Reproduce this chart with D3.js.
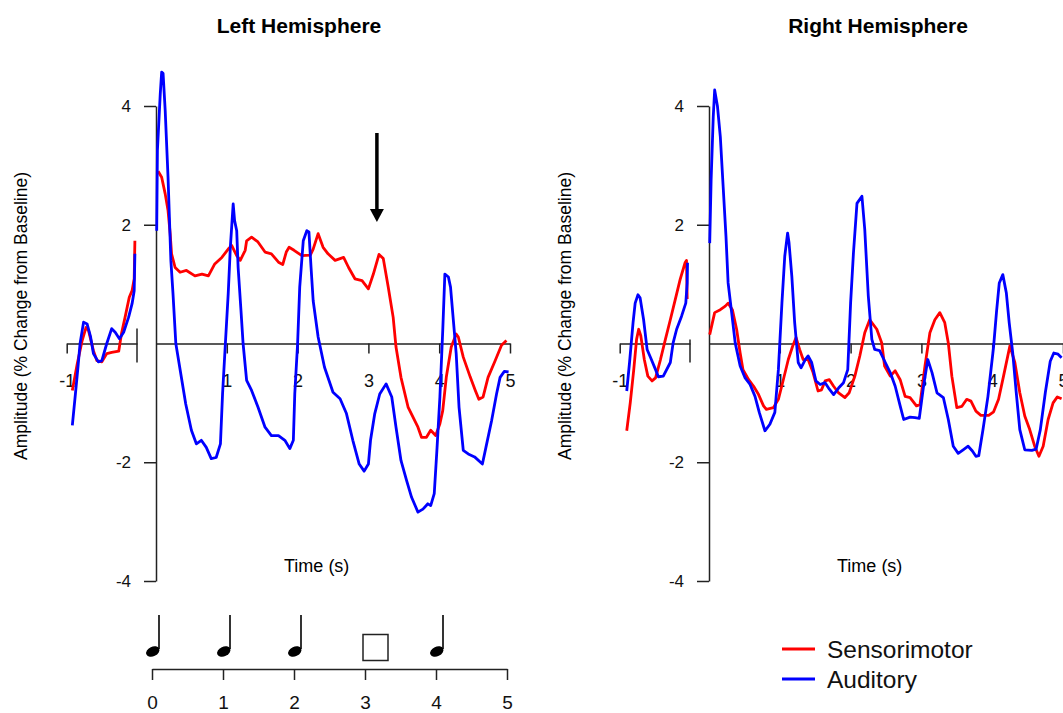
<!DOCTYPE html>
<html>
<head>
<meta charset="utf-8">
<script src="https://cdn.jsdelivr.net/npm/d3@7"></script>
<style>
  body { margin: 0; background: #fff; }
  svg { display: block; font-family: Arial, "Liberation Sans", sans-serif; }
</style>
</head>
<body>
<svg id="chart" width="1063" height="713"></svg>
<script>
// data: [time (s), amplitude]
var leftPreSensorimotor = [[-0.92,-0.79],[-0.85,-0.34],[-0.78,0.05],[-0.725,0.27],[-0.69,0.22],[-0.62,-0.12],[-0.57,-0.29],[-0.5,-0.31],[-0.43,-0.17],[-0.36,-0.15],[-0.26,-0.13],[-0.22,0.17],[-0.17,0.44],[-0.11,0.78],[-0.07,0.89],[-0.04,1.09],[-0.03,1.73]];
var leftPreAuditory = [[-0.92,-1.38],[-0.876,-0.85],[-0.84,-0.4],[-0.81,0],[-0.76,0.36],[-0.71,0.33],[-0.66,0.11],[-0.62,-0.17],[-0.55,-0.31],[-0.5,-0.29],[-0.43,0],[-0.36,0.25],[-0.31,0.19],[-0.25,0.08],[-0.19,0.19],[-0.12,0.44],[-0.07,0.67],[-0.04,0.89],[-0.03,1.51]];
var leftSensorimotor = [[0.03,2.9],[0.08,2.8],[0.13,2.52],[0.17,2.24],[0.2,1.85],[0.22,1.51],[0.27,1.28],[0.34,1.2],[0.43,1.23],[0.55,1.14],[0.65,1.17],[0.74,1.14],[0.83,1.34],[0.93,1.45],[1.02,1.59],[1.07,1.65],[1.14,1.48],[1.19,1.4],[1.26,1.57],[1.28,1.73],[1.35,1.79],[1.44,1.71],[1.54,1.54],[1.63,1.51],[1.73,1.37],[1.79,1.33],[1.84,1.54],[1.88,1.62],[1.95,1.57],[2.06,1.48],[2.18,1.49],[2.22,1.59],[2.29,1.85],[2.36,1.62],[2.43,1.51],[2.53,1.4],[2.65,1.45],[2.72,1.28],[2.81,1.09],[2.91,1.06],[3.0,0.92],[3.07,1.17],[3.15,1.5],[3.21,1.43],[3.28,0.95],[3.35,0.44],[3.39,-0.06],[3.46,-0.57],[3.56,-1.07],[3.63,-1.24],[3.7,-1.41],[3.75,-1.58],[3.82,-1.58],[3.88,-1.46],[3.95,-1.55],[4.01,-1.35],[4.05,-1.13],[4.1,-0.57],[4.17,-0.06],[4.24,0.16],[4.27,0.11],[4.34,-0.23],[4.44,-0.57],[4.51,-0.79],[4.56,-0.94],[4.62,-0.9],[4.69,-0.57],[4.79,-0.29],[4.88,-0.03],[4.95,0.05]];
var leftAuditory = [[0.01,1.9],[0.02,3.25],[0.06,4.2],[0.08,4.57],[0.1,4.55],[0.13,3.92],[0.17,2.8],[0.21,1.4],[0.24,0.84],[0.28,0],[0.35,-0.51],[0.42,-1.02],[0.5,-1.46],[0.57,-1.69],[0.64,-1.63],[0.71,-1.75],[0.78,-1.94],[0.85,-1.92],[0.91,-1.69],[0.94,-0.85],[0.98,0],[1.02,0.84],[1.05,1.62],[1.09,2.35],[1.11,2.07],[1.14,1.9],[1.16,1.28],[1.2,0.56],[1.23,0],[1.28,-0.62],[1.35,-0.79],[1.44,-1.07],[1.54,-1.41],[1.63,-1.55],[1.73,-1.55],[1.82,-1.63],[1.89,-1.77],[1.94,-1.63],[1.96,-0.85],[2.0,0],[2.03,0.95],[2.08,1.73],[2.13,1.9],[2.16,1.88],[2.19,1.28],[2.22,0.72],[2.29,0.11],[2.38,-0.4],[2.5,-0.82],[2.6,-0.93],[2.69,-1.18],[2.78,-1.63],[2.87,-2.03],[2.94,-2.15],[3.0,-2.03],[3.03,-1.63],[3.09,-1.18],[3.16,-0.85],[3.25,-0.68],[3.33,-0.9],[3.39,-1.41],[3.46,-1.97],[3.54,-2.31],[3.61,-2.59],[3.7,-2.84],[3.77,-2.79],[3.84,-2.7],[3.88,-2.73],[3.93,-2.53],[3.97,-1.75],[4.01,-0.9],[4.05,0.22],[4.08,1.17],[4.13,1.12],[4.16,0.95],[4.2,0.39],[4.24,-0.17],[4.28,-1.07],[4.34,-1.8],[4.41,-1.86],[4.5,-1.91],[4.61,-2.03],[4.66,-1.75],[4.74,-1.3],[4.81,-0.85],[4.86,-0.57],[4.92,-0.47],[4.98,-0.48]];

var rightPreSensorimotor = [[-0.9,-1.47],[-0.85,-1.0],[-0.8,-0.44],[-0.76,0.07],[-0.73,0.24],[-0.7,0.13],[-0.65,-0.27],[-0.6,-0.55],[-0.54,-0.63],[-0.49,-0.58],[-0.42,-0.27],[-0.35,0.07],[-0.28,0.4],[-0.21,0.74],[-0.14,1.08],[-0.07,1.36],[-0.05,1.4],[-0.04,0.75]];
var rightPreAuditory = [[-0.9,-0.8],[-0.86,-0.32],[-0.81,0.35],[-0.78,0.68],[-0.74,0.82],[-0.71,0.77],[-0.66,0.4],[-0.61,-0.1],[-0.56,-0.24],[-0.49,-0.44],[-0.45,-0.56],[-0.38,-0.55],[-0.28,-0.32],[-0.24,0.01],[-0.19,0.24],[-0.12,0.46],[-0.06,0.68],[-0.04,1.02],[-0.035,1.36]];
var rightSensorimotor = [[0.01,0.15],[0.08,0.52],[0.16,0.57],[0.23,0.63],[0.27,0.68],[0.33,0.57],[0.39,0.24],[0.44,-0.16],[0.48,-0.44],[0.56,-0.61],[0.63,-0.72],[0.7,-0.86],[0.77,-1.05],[0.81,-1.11],[0.91,-1.08],[0.98,-0.94],[1.05,-0.61],[1.12,-0.27],[1.18,-0.05],[1.23,0.1],[1.28,-0.1],[1.33,-0.27],[1.4,-0.27],[1.47,-0.49],[1.54,-0.8],[1.59,-0.78],[1.64,-0.63],[1.7,-0.61],[1.76,-0.72],[1.83,-0.83],[1.92,-0.91],[1.98,-0.83],[2.06,-0.55],[2.13,-0.21],[2.2,0.18],[2.27,0.4],[2.37,0.24],[2.44,0.01],[2.48,-0.38],[2.56,-0.55],[2.63,-0.46],[2.7,-0.61],[2.77,-0.89],[2.84,-0.91],[2.93,-1.05],[2.98,-1.03],[3.05,-0.38],[3.12,0.18],[3.19,0.4],[3.26,0.52],[3.33,0.35],[3.38,0.01],[3.43,-0.55],[3.5,-1.08],[3.57,-1.06],[3.64,-0.94],[3.7,-0.97],[3.77,-1.14],[3.84,-1.21],[3.95,-1.21],[4.02,-1.15],[4.09,-0.94],[4.16,-0.55],[4.25,-0.04],[4.32,-0.32],[4.39,-0.83],[4.46,-1.22],[4.53,-1.45],[4.6,-1.73],[4.66,-1.9],[4.72,-1.73],[4.79,-1.28],[4.86,-1.0],[4.92,-0.9],[4.98,-0.93]];
var rightAuditory = [[0.01,1.69],[0.03,2.76],[0.06,3.82],[0.08,4.27],[0.12,3.99],[0.16,3.48],[0.2,2.64],[0.24,1.8],[0.27,1.02],[0.32,0.52],[0.37,0.01],[0.44,-0.38],[0.51,-0.58],[0.58,-0.69],[0.65,-0.89],[0.71,-1.16],[0.79,-1.47],[0.86,-1.36],[0.93,-1.16],[0.98,-0.44],[1.03,0.68],[1.07,1.47],[1.11,1.86],[1.13,1.7],[1.17,1.13],[1.21,0.35],[1.26,-0.32],[1.3,-0.41],[1.36,-0.27],[1.4,-0.21],[1.45,-0.32],[1.51,-0.63],[1.57,-0.69],[1.64,-0.66],[1.7,-0.77],[1.76,-0.86],[1.83,-0.75],[1.9,-0.66],[1.96,-0.44],[2.0,0.68],[2.04,1.52],[2.09,2.36],[2.16,2.48],[2.2,1.92],[2.25,0.8],[2.3,0.07],[2.34,-0.1],[2.41,-0.12],[2.49,-0.32],[2.56,-0.49],[2.63,-0.72],[2.7,-1.05],[2.75,-1.28],[2.84,-1.24],[2.91,-1.25],[2.97,-1.26],[3.03,-0.72],[3.09,-0.27],[3.15,-0.49],[3.22,-0.83],[3.31,-0.91],[3.38,-1.28],[3.45,-1.73],[3.52,-1.85],[3.59,-1.79],[3.66,-1.73],[3.72,-1.81],[3.77,-1.9],[3.81,-1.89],[3.87,-1.45],[3.94,-0.89],[4.02,-0.05],[4.06,0.52],[4.1,1.02],[4.15,1.16],[4.2,0.85],[4.24,0.35],[4.29,-0.16],[4.34,-0.83],[4.39,-1.45],[4.46,-1.79],[4.56,-1.8],[4.62,-1.78],[4.68,-1.45],[4.75,-0.83],[4.82,-0.3],[4.87,-0.16],[4.93,-0.18],[4.98,-0.24]];

var xTicks = [1, 2, 3, 4, 5];
var yTicks = [-4, -2, 2, 4];
var beatTimes = [0, 1, 2, 4];   // quarter notes
var restTime = 3;               // the missing beat (square)
var arrowTime = 3.12;
var beatAxisTicks = [0, 1, 2, 3, 4, 5];
var seriesNames = ["Sensorimotor", "Auditory"];
var seriesColors = ["#ff0000", "#0000ff"];

var svg = d3.select("#chart");
var axisColor = "#222";

var y = d3.scaleLinear().domain([-4, 4]).range([581, 106]);

function drawPanel(opt) {
	var xPost = d3.scaleLinear().domain([0, 5]).range([opt.x0, opt.x0 + 354]);
	var xPre = d3.scaleLinear().domain([-1, 0]).range([opt.x0 - 89.3, opt.x0 - 19]);
	var g = svg.append("g");

	// title
	g.append("text")
	 .attr("x", opt.titleX).attr("y", 33)
	 .attr("text-anchor", "middle")
	 .attr("font-size", "21px").attr("font-weight", "bold")
	 .text(opt.title);

	// y axis
	var yAxis = d3.axisLeft(y).tickValues(yTicks).tickSize(12).tickSizeOuter(0)
				  .tickPadding(13).tickFormat(function(d) { return String(d); });
	var ya = g.append("g").attr("transform", "translate(" + opt.x0 + ",0)").call(yAxis);

	// x axis after stimulus
	var xAxis = d3.axisBottom(xPost).tickValues(xTicks).tickSize(10).tickSizeOuter(0)
				  .tickPadding(21).tickFormat(function(d) { return String(d); });
	var xa = g.append("g").attr("transform", "translate(0," + y(0) + ")").call(xAxis);

	// x axis of baseline segment
	var preAxis = d3.axisBottom(xPre).tickValues([-1]).tickSize(10).tickSizeOuter(0)
					.tickPadding(21).tickFormat(function(d) { return String(d); });
	var pa = g.append("g").attr("transform", "translate(0," + y(0) + ")").call(preAxis);
	g.append("line")
	 .attr("x1", xPre(0)).attr("x2", xPre(0))
	 .attr("y1", y(0) - opt.breakUp).attr("y2", y(0) + 19)
	 .attr("stroke", axisColor).attr("stroke-width", 1.5);

	[ya, xa, pa].forEach(function(a) {
		a.selectAll("path, line").attr("stroke", axisColor).attr("stroke-width", 1.5);
		a.selectAll("text").attr("fill", "#111").attr("font-family", "Arial, 'Liberation Sans', sans-serif");
	});
	ya.selectAll("text").attr("font-size", "17px");
	xa.selectAll("text").attr("font-size", "18px");
	pa.selectAll("text").attr("font-size", "18px");

	// axis titles
	g.append("text")
	 .attr("transform", "translate(" + opt.labelX + ",316) rotate(-90)")
	 .attr("text-anchor", "middle").attr("font-size", "17.5px")
	 .text("Amplitude (% Change from Baseline)");
	g.append("text")
	 .attr("x", xPost(2.27)).attr("y", 572)
	 .attr("text-anchor", "middle").attr("font-size", "18px")
	 .text("Time (s)");

	// curves
	var linePre = d3.line().x(function(d) { return xPre(d[0]); }).y(function(d) { return y(d[1]); });
	var linePost = d3.line().x(function(d) { return xPost(d[0]); }).y(function(d) { return y(d[1]); });
	var sets = [[opt.preS, linePre, 0], [opt.postS, linePost, 0], [opt.preA, linePre, 1], [opt.postA, linePost, 1]];
	sets.forEach(function(s) {
		g.append("path")
		 .datum(s[0])
		 .attr("d", s[1])
		 .attr("fill", "none")
		 .attr("stroke", seriesColors[s[2]])
		 .attr("stroke-width", 2.8)
		 .attr("stroke-linejoin", "round");
	});
	return xPost;
}

var leftX = drawPanel({ x0: 156, title: "Left Hemisphere", titleX: 299, labelX: 27, breakUp: 15,
	preS: leftPreSensorimotor, postS: leftSensorimotor, preA: leftPreAuditory, postA: leftAuditory });
drawPanel({ x0: 709, title: "Right Hemisphere", titleX: 878, labelX: 571, breakUp: 4,
	preS: rightPreSensorimotor, postS: rightSensorimotor, preA: rightPreAuditory, postA: rightAuditory });

// arrow over the missing beat
var ax = leftX(arrowTime);
svg.append("line")
   .attr("x1", ax).attr("x2", ax).attr("y1", 133).attr("y2", 212)
   .attr("stroke", "#000").attr("stroke-width", 3.5);
svg.append("path")
   .attr("d", "M" + (ax - 7) + ",209L" + (ax + 7) + ",209L" + ax + ",222Z")
   .attr("fill", "#000");

// beat timeline under the left panel
var xBeat = d3.scaleLinear().domain([0, 5]).range([152, 507]);
var beatAxis = d3.axisBottom(xBeat).tickValues(beatAxisTicks).tickSize(11).tickSizeOuter(0)
				 .tickPadding(16).tickFormat(function(d) { return String(d); });
var ba = svg.append("g").attr("transform", "translate(0,669)").call(beatAxis);
ba.selectAll("path, line").attr("stroke", axisColor).attr("stroke-width", 1.5);
ba.selectAll("text").attr("fill", "#111").attr("font-size", "19px")
  .attr("font-family", "Arial, 'Liberation Sans', sans-serif");

var notes = svg.append("g");
beatTimes.forEach(function(t) {
	var cx = xBeat(t) + 0.8;
	notes.append("ellipse")
		 .attr("cx", cx).attr("cy", 651.5).attr("rx", 7).attr("ry", 4.8)
		 .attr("transform", "rotate(-25," + cx + ",651.5)")
		 .attr("fill", "#000");
	notes.append("line")
		 .attr("x1", cx + 6.2).attr("x2", cx + 6.2).attr("y1", 649).attr("y2", 615)
		 .attr("stroke", "#000").attr("stroke-width", 1.6);
});
notes.append("rect")
	 .attr("x", xBeat(restTime) - 2).attr("y", 634.5)
	 .attr("width", 25).attr("height", 26)
	 .attr("fill", "none").attr("stroke", "#222").attr("stroke-width", 1.5);

// legend
var legend = svg.append("g");
seriesNames.forEach(function(name, i) {
	var ly = 649 + i * 30;
	legend.append("line")
		  .attr("x1", 782).attr("x2", 815).attr("y1", ly).attr("y2", ly)
		  .attr("stroke", seriesColors[i]).attr("stroke-width", 2.8);
	legend.append("text")
		  .attr("x", 827).attr("y", ly + 9)
		  .attr("font-size", "24.5px").attr("fill", "#111")
		  .text(name);
});
</script>
</body>
</html>
